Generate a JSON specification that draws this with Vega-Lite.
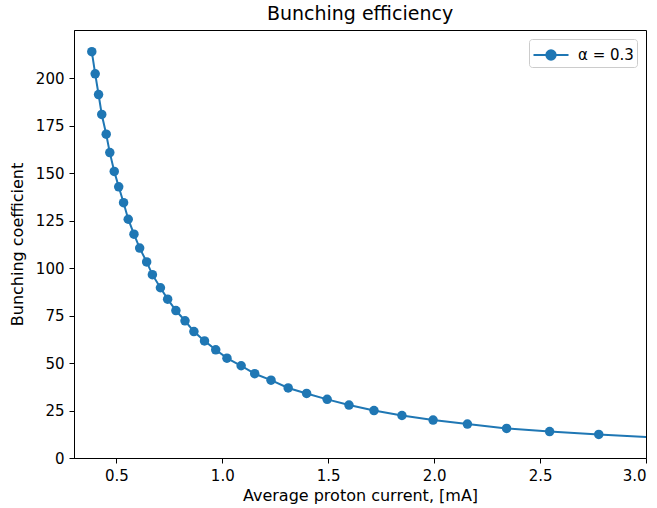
{
  "$schema": "https://vega.github.io/schema/vega-lite/v6.json",
  "width": 572,
  "height": 428,
  "autosize": {"type": "none"},
  "padding": {"left": 74, "top": 30, "right": 11, "bottom": 50},
  "background": "white",
  "title": {"text": "Bunching efficiency", "font": "DejaVu Sans", "fontSize": 19, "fontWeight": "normal", "color": "black", "offset": 6},
  "config": {
    "view": {"stroke": "black", "strokeWidth": 1},
    "axis": {
      "grid": false,
      "domainColor": "black",
      "domainWidth": 1,
      "tickColor": "black",
      "tickWidth": 1,
      "tickSize": 5,
      "labelFont": "DejaVu Sans",
      "labelFontSize": 15,
      "labelColor": "black",
      "labelPadding": 5,
      "titleFont": "DejaVu Sans",
      "titleFontSize": 16,
      "titleFontWeight": "normal",
      "titleColor": "black"
    },
    "legend": {
      "orient": "top-right",
      "offset": 9,
      "strokeColor": "#cccccc",
      "fillColor": "white",
      "cornerRadius": 3,
      "padding": 3,
      "labelFont": "DejaVu Sans",
      "labelFontSize": 15,
      "labelColor": "black",
      "labelOffset": 14
    }
  },
  "data": {
    "values": [
      {"current": 0.384, "coef": 214.1, "series": "α = 0.3"},
      {"current": 0.400, "coef": 202.4, "series": "α = 0.3"},
      {"current": 0.416, "coef": 191.5, "series": "α = 0.3"},
      {"current": 0.431, "coef": 181.0, "series": "α = 0.3"},
      {"current": 0.452, "coef": 170.6, "series": "α = 0.3"},
      {"current": 0.469, "coef": 160.9, "series": "α = 0.3"},
      {"current": 0.490, "coef": 151.0, "series": "α = 0.3"},
      {"current": 0.511, "coef": 142.9, "series": "α = 0.3"},
      {"current": 0.534, "coef": 134.5, "series": "α = 0.3"},
      {"current": 0.556, "coef": 125.8, "series": "α = 0.3"},
      {"current": 0.583, "coef": 117.9, "series": "α = 0.3"},
      {"current": 0.610, "coef": 110.6, "series": "α = 0.3"},
      {"current": 0.643, "coef": 103.3, "series": "α = 0.3"},
      {"current": 0.670, "coef": 96.6, "series": "α = 0.3"},
      {"current": 0.708, "coef": 89.7, "series": "α = 0.3"},
      {"current": 0.742, "coef": 83.7, "series": "α = 0.3"},
      {"current": 0.781, "coef": 77.7, "series": "α = 0.3"},
      {"current": 0.824, "coef": 72.3, "series": "α = 0.3"},
      {"current": 0.866, "coef": 66.6, "series": "α = 0.3"},
      {"current": 0.916, "coef": 61.7, "series": "α = 0.3"},
      {"current": 0.969, "coef": 57.0, "series": "α = 0.3"},
      {"current": 1.022, "coef": 52.6, "series": "α = 0.3"},
      {"current": 1.089, "coef": 48.6, "series": "α = 0.3"},
      {"current": 1.153, "coef": 44.4, "series": "α = 0.3"},
      {"current": 1.230, "coef": 41.0, "series": "α = 0.3"},
      {"current": 1.311, "coef": 36.9, "series": "α = 0.3"},
      {"current": 1.398, "coef": 34.0, "series": "α = 0.3"},
      {"current": 1.495, "coef": 30.9, "series": "α = 0.3"},
      {"current": 1.598, "coef": 27.9, "series": "α = 0.3"},
      {"current": 1.716, "coef": 25.0, "series": "α = 0.3"},
      {"current": 1.848, "coef": 22.4, "series": "α = 0.3"},
      {"current": 1.995, "coef": 20.0, "series": "α = 0.3"},
      {"current": 2.157, "coef": 17.9, "series": "α = 0.3"},
      {"current": 2.342, "coef": 15.6, "series": "α = 0.3"},
      {"current": 2.545, "coef": 13.9, "series": "α = 0.3"},
      {"current": 2.777, "coef": 12.4, "series": "α = 0.3"},
      {"current": 3.040, "coef": 10.9, "series": "α = 0.3"}
    ]
  },
  "encoding": {
    "x": {
      "field": "current", "type": "quantitative",
      "scale": {"domain": [0.3, 3.0], "nice": false, "zero": false},
      "axis": {"values": [0.5, 1.0, 1.5, 2.0, 2.5, 3.0], "format": ".1f", "title": "Average proton current, [mA]", "titlePadding": 4}
    },
    "y": {
      "field": "coef", "type": "quantitative",
      "scale": {"domain": [0, 225.5], "nice": false},
      "axis": {"values": [0, 25, 50, 75, 100, 125, 150, 175, 200], "title": "Bunching coefficient", "titlePadding": 10}
    },
    "color": {
      "field": "series", "type": "nominal",
      "scale": {"range": ["#1f77b4"]},
      "legend": {
        "title": null,
        "symbolType": "M-1.5,0H1.5M-0.4,0A0.4,0.4 0 1,0 0.4,0A0.4,0.4 0 1,0 -0.4,0Z",
        "symbolSize": 545,
        "symbolOffset": 6,
        "symbolStrokeWidth": 2,
        "symbolFillColor": "#1f77b4",
        "symbolStrokeColor": "#1f77b4"
      }
    }
  },
  "layer": [
    {"mark": {"type": "line", "strokeWidth": 2, "clip": true}},
    {"mark": {"type": "circle", "size": 90, "opacity": 1, "clip": true}}
  ]
}
